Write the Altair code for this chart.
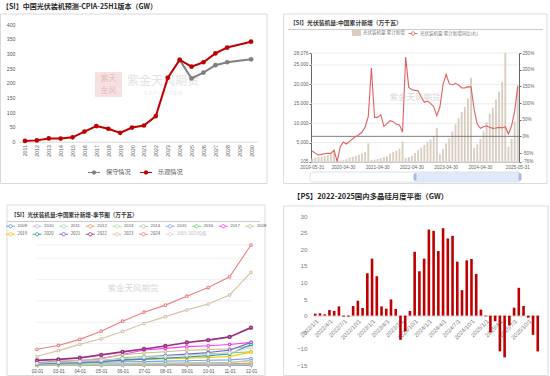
import altair as alt
import pandas as pd

SANS = "Liberation Sans, Noto Sans CJK SC, sans-serif"
CJK = "Noto Sans CJK SC, Liberation Sans, sans-serif"
PAGE_W, PAGE_H = 550, 376

# ================= Panel A data =================
a_title = "【SI】中国光伏装机预测-CPIA-25H1版本（GW）"
a_years = [str(y) for y in range(2011, 2031)]
a_series = ["保守情况", "乐观情况"]
a_colors = ["#7f7f7f", "#c00000"]
a_conservative = [None, None, None, None, None, None, None, None, None, None,
                  None, None, None, 278, 215, 235, 260, 270, None, 280]
a_optimistic = [2.7, 4.5, 11, 10.6, 15, 34.5, 53, 44, 30, 48,
                55, 87, 217, 278, 255, 270, 300, 320, None, 340]
a_ticks = [0, 50, 100, 150, 200, 250, 300, 350, 400]

# ================= Panel B data =================
b_title = "【SI】光伏装机量:中国累计新增（万千瓦）"
b_bar_name = "光伏装机量:累计新增"
b_line_name = "光伏装机量:累计新增同比(右)"
b_months = []
for yy in range(2019, 2026):
    for mm in range(2, 13):
        if (yy == 2019 and mm < 5) or (yy == 2025 and mm > 5):
            continue
        b_months.append((pd.Timestamp(yy, mm, 1) + pd.offsets.MonthEnd(0)).strftime("%Y-%m-%d"))
b_installed = [
    909, 1140, 1280, 1450, 1599, 1795, 2000, 3011,
    185, 395, 505, 776, 1152, 1382, 1612, 1870, 2190, 2570, 4820,
    560, 620, 790, 1023, 1301, 1531, 2200, 2556, 2931, 3478, 5297,
    1086, 1321, 1688, 2371, 3088, 3753, 4447, 5260, 5824, 6572, 8741,
    2037, 3366, 4831, 6121, 7842, 9713, 11316, 12894, 14256, 16388, 21688,
    3672, 4574, 6000, 7915, 10248, 12353, 14010, 16088, 18130, 20630, 28076,
    3947, 5971, 10493, 19785,
]
b_yoy = [
    -44, -51, -56, -54, -52, -51, -51, -41,
    -76, -31, -17, -23, -15, -7, 0, 5, 13, 28, 60,
    205, 57, 57, 65, 30, 38, 47, 44, 36, 34, 13,
    238, 147, 140, 138, 137, 118, 102, 106, 99, 89, 62,
    88, 155, 186, 158, 154, 159, 154, 145, 145, 149, 148,
    80, 36, 24, 29, 31, 27, 24, 25, 27, 26, 29,
    7, 31, 75, 150,
]
b_ticks = ["2019-05-31", "2020-04-30", "2021-04-30", "2022-04-30",
           "2023-04-30", "2024-04-30", "2025-05-31"]
b_left_ticks = [105, 5000, 10000, 15000, 20000, 25000, 28076]
b_right_ticks = [-76, -50, 0, 50, 100, 150, 200, 250]

# ================= Panel C data =================
c_title = "【SI】光伏装机量:中国累计新增-季节图（万千瓦）"
c_months = ["02-01", "03-01", "04-01", "05-01", "06-01", "07-01",
            "08-01", "09-01", "10-01", "11-01", "12-01"]
c_years1 = ["2009", "2010", "2011", "2012", "2013", "2014", "2015", "2016", "2017", "2018"]
c_colors1 = ["#6e9be0", "#c5aee8", "#9ed8cc", "#dd9a63", "#b5dc98",
             "#bdbdbd", "#70a8ea", "#67d567", "#ff3cf0", "#c9bd8f"]
c_years2 = ["2019", "2020", "2021", "2022", "2023", "2024", "2009-2023均值"]
c_colors2 = ["#ffbf00", "#2b9c9c", "#7566d6", "#9c2f80", "#d9c2a8", "#ef7f7f", "#d6d6d6"]
c_values = {
    "2009": [2.511, 3, 4, 5, 6, 8, 9, 10, 12, 13, 16],
    "2010": [10, 12, 15, 18, 20, 25, 28, 32, 36, 40, 50],
    "2011": [20, 30, 40, 50, 60, 80, 100, 120, 150, 180, 270],
    "2012": [30, 50, 70, 90, 110, 140, 170, 200, 250, 300, 450],
    "2013": [50, 80, 100, 150, 200, 250, 300, 400, 500, 600, 1095],
    "2014": [100, 150, 200, 300, 330, 400, 450, 500, 550, 600, 1060],
    "2015": [300, 500, 550, 600, 773, 800, 900, 990, 1100, 1200, 1513],
    "2016": [600, 714, 800, 900, 1700, 2000, 2200, 2400, 2600, 2800, 3100],
    "2017": [300, 721, 1000, 1500, 2440, 3500, 3900, 4300, 4500, 4800, 5306],
    "2018": [500, 965, 1100, 1500, 2406, 2800, 3100, 3454, 3600, 3800, 4426],
    "2019": [300, 520, 640, 909, 1140, 1280, 1450, 1599, 1795, 2000, 3011],
    "2020": [267, 395, 505, 776, 1152, 1382, 1612, 1870, 2190, 2570, 4820],
    "2021": [560, 620, 790, 1023, 1301, 1531, 2200, 2556, 2931, 3478, 5297],
    "2022": [1086, 1321, 1688, 2371, 3088, 3753, 4447, 5260, 5824, 6572, 8741],
    "2023": [2037, 3366, 4831, 6121, 7842, 9713, 11316, 12894, 14256, 16388, 21688],
    "2024": [3672, 4574, 6000, 7915, 10248, 12353, 14010, 16088, 18130, 20630, 28076],
    "2009-2023均值": [410, 640, 840, 1070, 1480, 1790, 2050, 2300, 2530, 2820, 4060],
}
c_ticks = [2.511, 5000, 10000, 15000, 20000, 25000, 28076]

# ================= Panel D data =================
d_title = "【PS】2022-2025国内多晶硅月度平衡（GW）"
d_months = [f"{yy}/{mm}/1" for yy in range(2022, 2026) for mm in range(1, 13)]
d_ticks = [m for i, m in enumerate(d_months) if i % 3 == 0]
d_balance = [0.6, 0.7, 0.4, 1.7, 1.4, 2.8, -0.3, -0.3, 2.9, 4.5, 2.3, 12.8,
             17.2, 11.9, 2.8, 2.1, 4.9, 2.0, -7.3, -4.8, 1.4, 19.3, 13.4, 17.2,
             26.0, 25.6, 19.5, 26.4, 23.3, 24.1, 16.3, 7.7, 16.7, 17.1, 12.6, 1.8,
             -0.2, -5.1, -1.7, -10.8, -12.6, -3.0, 2.4, 8.4, 2.9, -0.6, -5.8, -10.8]
d_yticks = [-15, -10, -5, 0, 5, 10, 15, 20, 25, 30]

WATERMARK = "紫金天风期货"
WM_SUB = "立 足 产 业   研 究 驱 动"


# ================= decoration helpers (page pixels) =================
def deco():
    return alt.Chart(pd.DataFrame({"k": [0]}))


def rect(x1, x2, y1, y2, **kw):
    return deco().mark_rect(**kw).encode(x=alt.value(x1), x2=alt.value(x2),
                                         y=alt.value(y1), y2=alt.value(y2))


def text(s, x, y, **kw):
    return deco().mark_text(text=s, **kw).encode(x=alt.value(x), y=alt.value(y))


def hrule(x1, x2, y, **kw):
    return deco().mark_rule(**kw).encode(x=alt.value(x1), x2=alt.value(x2), y=alt.value(y))


def grid(ticks, scale, x1, x2, color):
    return alt.Chart(pd.DataFrame({"t": ticks})).mark_rule(color=color, strokeWidth=0.8).encode(
        y=alt.Y("t:Q", scale=scale, axis=None), x=alt.value(x1), x2=alt.value(x2))


PATH_FILLED = ("M-1,-0.08L1,-0.08L1,0.08L-1,0.08Z "
               "M0.36,0A0.36,0.36,0,1,1,-0.36,0A0.36,0.36,0,1,1,0.36,0")
PATH_HOLLOW = ("M-1,0L-0.38,0M0.38,0L1,0 "
               "M0.38,0A0.38,0.38,0,1,1,-0.38,0A0.38,0.38,0,1,1,0.38,0")

# ================= Panel A (plot x 19..257, y 24..141.7) =================
A_X, A_Y = (19, 257), (141.7, 24)
dfa_c = pd.DataFrame({"year": a_years, "v": a_conservative, "series": a_series[0]}).dropna()
dfa_o = pd.DataFrame({"year": a_years, "v": a_optimistic, "series": a_series[1]}).dropna()
xa = alt.X("year:O", scale=alt.Scale(type="point", domain=a_years, padding=0.5, range=list(A_X)),
           axis=alt.Axis(title=None, orient="bottom", offset=-(PAGE_H - A_Y[0]), labelAngle=270,
                         labelFontSize=5.2, labelColor="#595959", labelFont=SANS,
                         domainColor="#d9d9d9", ticks=False, labelPadding=3, grid=False))
ya = alt.Y("v:Q", scale=alt.Scale(domain=[0, 400], nice=False, range=list(A_Y)),
           axis=alt.Axis(title=None, orient="left", offset=-A_X[0], values=a_ticks, labelFontSize=5.2,
                         labelColor="#595959", labelFont=SANS, domain=False, ticks=False, grid=False,
                         labelPadding=4))
fill_a = alt.Fill("series:N", scale=alt.Scale(domain=a_series, range=a_colors),
                  legend=alt.Legend(orient="none", legendX=88, legendY=166, direction="horizontal",
                                    title=None, symbolType=PATH_FILLED, symbolSize=144,
                                    symbolStrokeWidth=0, labelFontSize=6.2, labelFont=CJK,
                                    labelColor="#595959", labelOffset=6, columnPadding=9, padding=0))
panel_a = alt.layer(
    alt.Chart(dfa_c).mark_line(strokeWidth=2, color=a_colors[0]).encode(xa, ya),
    alt.Chart(dfa_c).mark_point(filled=True, size=22, opacity=1).encode(xa, ya, fill_a),
    alt.Chart(dfa_o).mark_line(strokeWidth=2, color=a_colors[1]).encode(xa, ya),
    alt.Chart(dfa_o).mark_point(filled=True, size=22, opacity=1).encode(xa, ya, fill_a),
)

# ================= Panel B (plot x 311..519, y 53..161.7) =================
B_X, B_Y = (311, 519), (161.7, 53)
dfb = pd.DataFrame({"month": b_months, "installed": b_installed, "yoy": b_yoy,
                    "bar_name": b_bar_name, "line_name": b_line_name})
scale_bl = alt.Scale(domain=[105, 28076], nice=False, zero=False, range=list(B_Y))
scale_br = alt.Scale(domain=[-76, 250], nice=False, zero=False, range=list(B_Y))
xb = alt.X("month:O", scale=alt.Scale(type="band", domain=b_months, paddingInner=0.4,
                                      paddingOuter=0.1, range=list(B_X)),
           axis=alt.Axis(title=None, orient="bottom", offset=-(PAGE_H - B_Y[0]), values=b_ticks,
                         labelAngle=0, labelFontSize=4.7, labelColor="#666666", labelFont=SANS,
                         domainColor="#aaaaaa", ticks=False, labelPadding=3, labelOverlap=False, grid=False))
bars_b = alt.Chart(dfb).mark_bar().encode(
    xb,
    y=alt.Y("installed:Q", scale=scale_bl,
            axis=alt.Axis(title=None, orient="left", offset=-B_X[0], values=b_left_ticks,
                          labelExpr="format(datum.value, ',')", labelFontSize=4.8, labelColor="#666666",
                          labelFont=SANS, domainColor="#666666", tickColor="#666666", tickSize=2,
                          grid=False, labelPadding=1)),
    y2=alt.datum(105),
    fill=alt.Fill("bar_name:N", scale=alt.Scale(domain=[b_bar_name], range=["#d9cdbf"]),
                  legend=alt.Legend(orient="none", legendX=352, legendY=28.5, title=None,
                                    symbolType="M-1,-0.65L1,-0.65L1,0.65L-1,0.65Z", symbolSize=81,
                                    symbolStrokeWidth=0, labelFontSize=4.5, labelFont=CJK,
                                    labelColor="#777777", labelOffset=2, padding=0)),
)
zero_b = deco().mark_rule(color="#707070", strokeWidth=0.9).encode(
    y=alt.YDatum(0, scale=scale_br, axis=None), x=alt.value(B_X[0]), x2=alt.value(B_X[1]))
line_b = alt.Chart(dfb).mark_line(strokeWidth=1.1).encode(
    xb,
    y=alt.Y("yoy:Q", scale=scale_br,
            axis=alt.Axis(title=None, orient="right", offset=-(PAGE_W - B_X[1]), values=b_right_ticks,
                          labelExpr="datum.value + '%'", labelFontSize=4.6, labelColor="#666666",
                          labelFont=SANS, domainColor="#666666", tickColor="#666666", tickSize=2,
                          grid=False, labelPadding=1)),
    stroke=alt.Stroke("line_name:N", scale=alt.Scale(domain=[b_line_name], range=["#e06060"]),
                      legend=alt.Legend(orient="none", legendX=408, legendY=28.5, title=None,
                                        symbolType=PATH_HOLLOW, symbolSize=81, symbolStrokeWidth=0.9,
                                        labelFontSize=4.5, labelFont=CJK, labelColor="#777777",
                                        labelOffset=2, padding=0)),
)
panel_b = alt.layer(
    grid(b_left_ticks, scale_bl, B_X[0], B_X[1], "#e6e6e6"),
    bars_b, zero_b, line_b,
).resolve_scale(y="independent")

# ================= Panel C (plot x 37..251, y 245..365) =================
C_X, C_Y = (37, 251), (365, 245)
rows1, rows2 = [], []
for yname in c_years1:
    for m, v in zip(c_months, c_values[yname]):
        rows1.append({"m": m, "v": v, "year": yname})
for yname in c_years2:
    for m, v in zip(c_months, c_values[yname]):
        rows2.append({"m": m, "v": v, "year": yname})
dfc1 = pd.DataFrame(rows1)
dfc2 = pd.DataFrame(rows2)
scale_cy = alt.Scale(domain=[2.511, 28076], nice=False, zero=False, range=list(C_Y))
xc = alt.X("m:O", scale=alt.Scale(type="point", domain=c_months, padding=0, range=list(C_X)),
           axis=alt.Axis(title=None, orient="bottom", offset=-(PAGE_H - C_Y[0]), labelAngle=0,
                         labelFontSize=4.6, labelColor="#555555", labelFont=SANS, domainColor="#999999",
                         tickColor="#999999", tickSize=2, labelPadding=1.5, grid=False))
yc = alt.Y("v:Q", scale=scale_cy,
           axis=alt.Axis(title=None, orient="left", offset=-C_X[0], values=c_ticks,
                         labelExpr="datum.value < 10 ? replace(format(datum.value, '.3f'), '.', ',') : format(datum.value, 'd')",
                         labelFontSize=4.6, labelColor="#555555", labelFont=SANS, domainColor="#999999",
                         tickColor="#999999", tickSize=2, grid=False, labelPadding=1))
leg_common = dict(orient="none", legendX=5.5, direction="horizontal", title=None,
                  symbolType=PATH_HOLLOW, symbolSize=81, symbolStrokeWidth=0.9,
                  labelFontSize=4.3, labelOffset=2, columnPadding=2.6, padding=0)
ptc = alt.OverlayMarkDef(filled=False, fill="white", size=7, strokeWidth=0.6)
sw = alt.condition(alt.datum.year == "2022", alt.value(1.7), alt.value(1.1))
line_c1 = alt.Chart(dfc1).mark_line(point=ptc).encode(
    xc, yc,
    color=alt.Color("year:N", scale=alt.Scale(domain=c_years1, range=c_colors1),
                    legend=alt.Legend(legendY=221, labelColor="#555555", labelFont=SANS, **leg_common)),
    strokeWidth=alt.value(1.1))
line_c2 = alt.Chart(dfc2).mark_line(point=ptc).encode(
    xc, yc,
    stroke=alt.Stroke("year:N", scale=alt.Scale(domain=c_years2, range=c_colors2),
                      legend=alt.Legend(legendY=229,
                                        labelColor={"expr": "datum.label == '2009-2023均值' ? '#bbbbbb' : '#555555'"},
                                        labelFont=CJK, **leg_common)),
    strokeWidth=sw)
panel_c = alt.layer(
    grid(c_ticks[1:], scale_cy, C_X[0], C_X[1], "#ececec"),
    line_c1, line_c2,
)

# ================= Panel D (plot x 313..540, y 216.3..365.3) =================
D_X, D_Y = (313, 540), (365.3, 216.3)
dfd = pd.DataFrame({"m": d_months, "b": d_balance})
d_zero_y = D_Y[0] - (D_Y[0] - D_Y[1]) * 15 / 45
xd = alt.X("m:O", scale=alt.Scale(type="band", domain=d_months, paddingInner=0.45, paddingOuter=0.2,
                                  range=list(D_X)),
           axis=alt.Axis(title=None, orient="bottom", offset=-(PAGE_H - d_zero_y), values=d_ticks,
                         labelAngle=315, labelFontSize=5.8, labelColor="#808080", labelFont=SANS,
                         domainColor="#d9d9d9", ticks=False, labelPadding=2, labelOverlap=False, grid=False))
yd = alt.Y("b:Q", scale=alt.Scale(domain=[-15, 30], nice=False, range=list(D_Y)),
           axis=alt.Axis(title=None, orient="left", offset=-D_X[0], values=d_yticks, labelFontSize=6.2,
                         labelColor="#808080", labelFont=SANS, domain=False, ticks=False, grid=False,
                         labelPadding=6))
panel_d = alt.Chart(dfd).mark_bar(color="#c00000").encode(xd, yd)

# ================= decorations =================
decos = [
    # frames
    rect(0.5, 267, 14, 183.5, fill="white", fillOpacity=0, stroke="#d9d9d9", strokeWidth=1),
    rect(283.5, 547, 14, 183.5, fill="white", fillOpacity=0, stroke="#dcdcdc", strokeWidth=1),
    rect(7, 265, 205, 375.5, fill="white", fillOpacity=0, stroke="#dcdcdc", strokeWidth=1),
    rect(283.5, 548, 206, 375.5, fill="white", fillOpacity=0, stroke="#dcdcdc", strokeWidth=1),
    # watermark A (logo + name)
    rect(95, 122, 72, 97, fill="#f3d9d9", opacity=0.8),
    text("紫天", 108.5, 78.5, font=CJK, fontSize=8, color="#e9b9b9"),
    text("金风", 108.5, 90.5, font=CJK, fontSize=8, color="#e9b9b9"),
    text(WATERMARK, 163, 81, font=CJK, fontSize=12, color="#e2e2e2"),
    text(WM_SUB, 163, 94, font=CJK, fontSize=4, color="#e6e6e6"),
    # titles
    text(a_title, 2, 7, align="left", baseline="middle", font=CJK, fontSize=7,
         fontWeight="bold", color="#262626"),
    text(b_title, 290, 23.3, align="left", baseline="middle", font=CJK, fontSize=5.8,
         fontWeight="bold", color="#333333"),
    hrule(288, 543, 29.5, color="#cccccc", strokeWidth=1),
    text(c_title, 11, 214.7, align="left", baseline="middle", font=CJK, fontSize=5.6,
         fontWeight="bold", color="#333333"),
    hrule(7, 260, 221.5, color="#cccccc", strokeWidth=1),
    text(d_title, 293, 197.3, align="left", baseline="middle", font=CJK, fontSize=7.4,
         fontWeight="bold", color="#262626"),
    # slider under panel B
    rect(310, 520, 172, 182, fill="white", fillOpacity=0, stroke="#d3dbe9", strokeWidth=0.8, cornerRadius=2),
    rect(415, 520, 172, 182, fill="#d6e1f4", opacity=0.75),
    rect(413.5, 416.5, 173.5, 180.5, fill="#a8bcdf", cornerRadius=1),
    rect(518.5, 521.5, 173.5, 180.5, fill="#a8bcdf", cornerRadius=1),
]
wm_b = text(WATERMARK, 415, 97, font=CJK, fontSize=8.5, color="#bdbdbd", opacity=0.6)
wm_c = text(WATERMARK, 133, 288, font=CJK, fontSize=8.5, color="#bdbdbd", opacity=0.6)

chart = alt.layer(
    *decos, wm_c, panel_a, panel_b, panel_c, panel_d, wm_b,
).resolve_scale(
    x="independent", y="independent", color="independent", fill="independent",
    stroke="independent", strokeWidth="independent",
).resolve_legend(
    color="independent", fill="independent", stroke="independent",
).properties(
    width=PAGE_W, height=PAGE_H, padding=0, background="white",
    autosize=alt.AutoSizeParams(type="none"),
).configure_view(stroke=None)

chart.save("out.html", embed_options={"renderer": "svg", "actions": False})
